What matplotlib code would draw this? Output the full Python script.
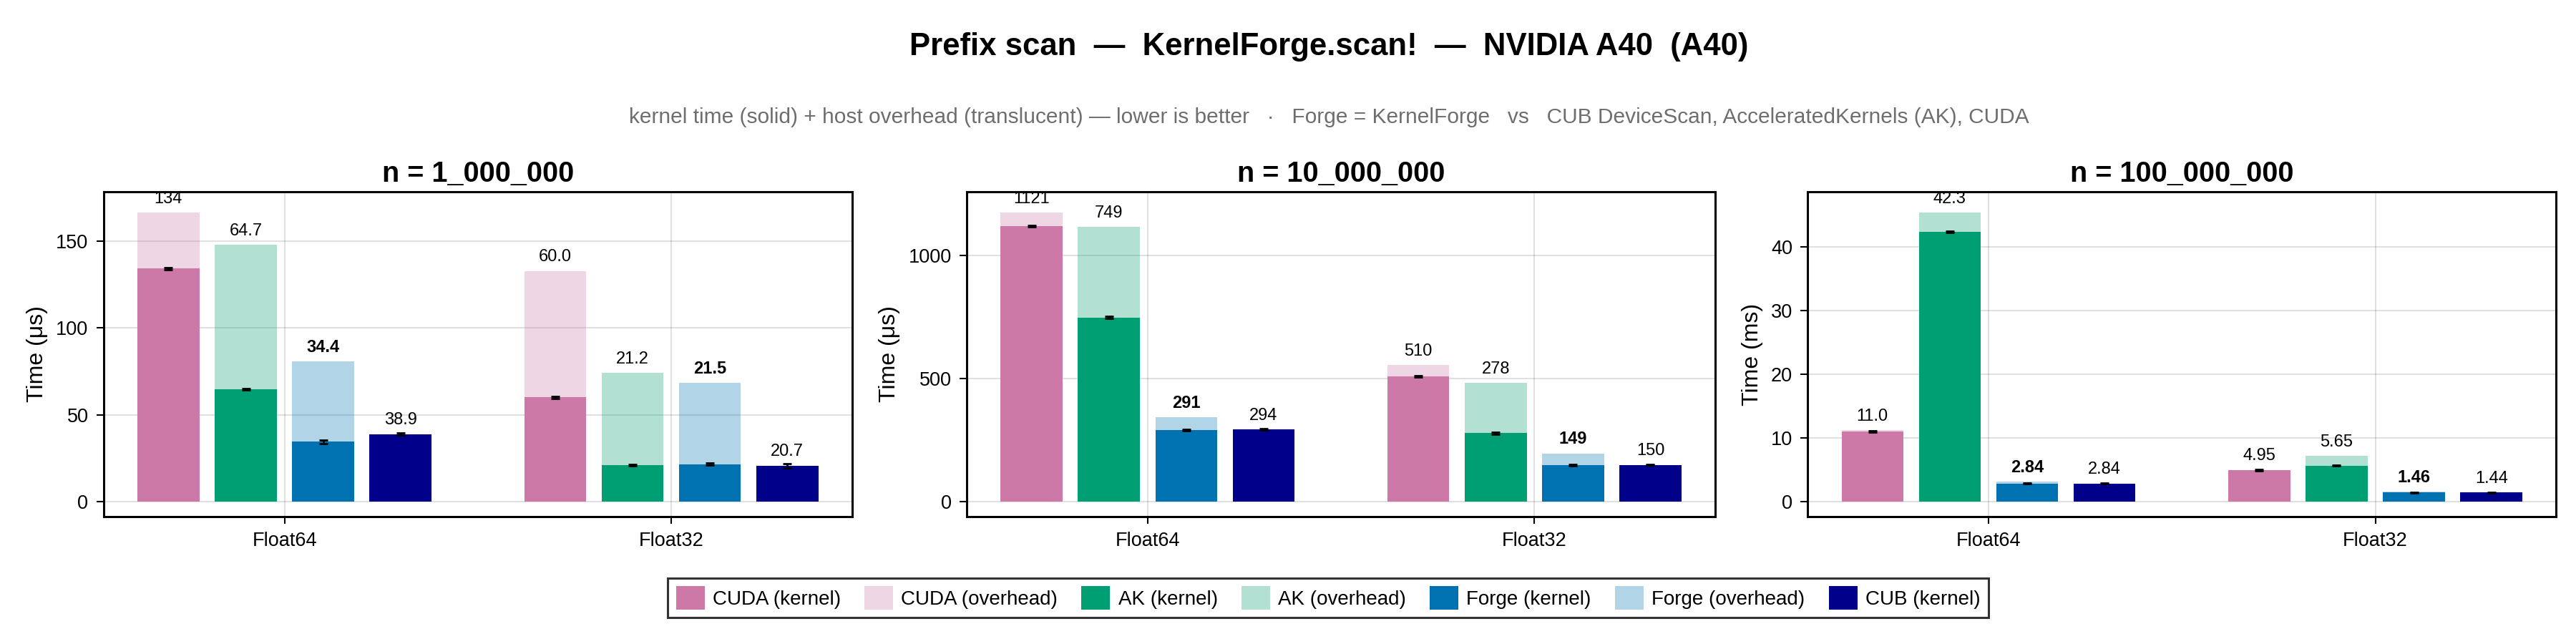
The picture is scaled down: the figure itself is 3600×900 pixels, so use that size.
import numpy as np
import matplotlib
matplotlib.use("Agg")
import matplotlib.pyplot as plt
from matplotlib.patches import Patch

plt.rcParams["font.family"] = ["Liberation Sans", "DejaVu Sans"]

# ---- data ----
panel_titles = ["n = 1_000_000", "n = 10_000_000", "n = 100_000_000"]
panel_units = ["μs", "μs", "ms"]
dtypes = ["Float64", "Float32"]
impls = ["CUDA", "AK", "Forge", "CUB"]

# [panel][dtype]
cuda_kernel = [[134.0, 60.0], [1121.0, 510.0], [11.0, 4.95]]
cuda_total = [[166.2, 132.7], [1174.0, 555.0], [11.2, 5.0]]
ak_kernel = [[64.7, 21.2], [749.0, 278.0], [42.3, 5.65]]
ak_total = [[147.8, 74.0], [1116.0, 482.0], [45.3, 7.2]]
forge_kernel = [[34.4, 21.5], [291.0, 149.0], [2.84, 1.46]]
forge_total = [[80.5, 68.2], [343.0, 196.0], [3.1, 1.53]]
cub_kernel = [[38.9, 20.7], [294.0, 150.0], [2.84, 1.44]]

cuda_err = [[0.6, 0.5], [3.0, 3.0], [0.08, 0.06]]
ak_err = [[0.5, 0.4], [3.0, 3.0], [0.08, 0.06]]
forge_err = [[1.2, 0.6], [3.0, 2.5], [0.06, 0.05]]
cub_err = [[0.7, 1.3], [2.5, 2.5], [0.06, 0.05]]

y_ticks = [[0, 50, 100, 150], [0, 500, 1000], [0, 10, 20, 30, 40]]
y_limits = [(-8.48, 178.1), (-59.9, 1258.5), (-2.31, 48.55)]

colors = {"CUDA": "#CC79A7", "AK": "#009E73", "Forge": "#0072B2", "CUB": "#00008B"}
OVER_ALPHA = 0.3


def fmt(v):
    if v >= 100:
        return f"{v:.0f}"
    if v >= 10:
        return f"{v:.1f}"
    return f"{v:.2f}"


fig = plt.figure(figsize=(36, 9), dpi=100)

fig.text(0.516, 1 - 77 / 900, "Prefix scan  —  KernelForge.scan!  —  NVIDIA A40  (A40)",
         ha="center", va="baseline", fontsize=31.5, fontweight="bold")
fig.text(0.516, 1 - 172 / 900,
         "kernel time (solid) + host overhead (translucent) — lower is better   ·   "
         "Forge = KernelForge   vs   CUB DeviceScan, AcceleratedKernels (AK), CUDA",
         ha="center", va="baseline", fontsize=21.5, color="#6e6e6e")

lefts = [144.6 / 3600, 1350.8 / 3600, 2526 / 3600]
width = 1046.5 / 3600
bottom = 1 - 721.7 / 900
height = (721.7 - 268.3) / 900

group_x = np.arange(1, len(dtypes) + 1)
offsets = [-0.3, -0.1, 0.1, 0.3]
bar_w = 0.16

for p in range(3):
    ax = fig.add_axes([lefts[p], bottom, width, height])
    ax.set_axisbelow(True)
    ax.grid(True, color="black", alpha=0.12, linewidth=1.5)

    kernels = [cuda_kernel[p], ak_kernel[p], forge_kernel[p], cub_kernel[p]]
    totals = [cuda_total[p], ak_total[p], forge_total[p], cub_kernel[p]]
    errs = [cuda_err[p], ak_err[p], forge_err[p], cub_err[p]]

    for i, name in enumerate(impls):
        xs = group_x + offsets[i]
        k = np.array(kernels[i])
        t = np.array(totals[i])
        ax.bar(xs, k, width=bar_w, color=colors[name], zorder=2)
        if name != "CUB":
            ax.bar(xs, t - k, bottom=k, width=bar_w, color=colors[name],
                   alpha=OVER_ALPHA, zorder=2)
        ax.errorbar(xs, k, yerr=errs[i], fmt="none", ecolor="black",
                    elinewidth=2, capsize=4, capthick=2, zorder=3)
        for x, kv, tv in zip(xs, k, t):
            ax.annotate(fmt(kv), (x, tv), xytext=(0, 6), textcoords="offset points",
                        ha="center", va="bottom", fontsize=17,
                        fontweight="bold" if name == "Forge" else "normal",
                        zorder=4)

    ax.set_xlim(0.532, 2.468)
    ax.set_ylim(*y_limits[p])
    ax.set_xticks(group_x)
    ax.set_xticklabels(dtypes)
    ax.set_yticks(y_ticks[p])
    ax.tick_params(axis="both", direction="out", length=7.2, width=1.5,
                   labelsize=19.5, pad=8)
    for s in ax.spines.values():
        s.set_linewidth(2.2)
    ax.set_ylabel(f"Time ({panel_units[p]})", fontsize=23, labelpad=8)
    ax.set_title(panel_titles[p], fontsize=28.5, fontweight="bold", pad=10.5)

handles = []
labels = []
for name in impls:
    handles.append(Patch(facecolor=colors[name], edgecolor="none"))
    labels.append(f"{name} (kernel)")
    if name != "CUB":
        handles.append(Patch(facecolor=colors[name], alpha=OVER_ALPHA, edgecolor="none"))
        labels.append(f"{name} (overhead)")

leg = fig.legend(handles, labels, ncol=7, loc="center",
                 bbox_to_anchor=(1856 / 3600, 1 - 835.5 / 900),
                 fontsize=20, frameon=True, fancybox=False,
                 handlelength=1.44, handleheight=1.44, handletextpad=0.4,
                 columnspacing=1.2, borderpad=0.4)
leg.get_frame().set_edgecolor("black")
leg.get_frame().set_linewidth(2.2)

fig.savefig("out.png", dpi=100)
